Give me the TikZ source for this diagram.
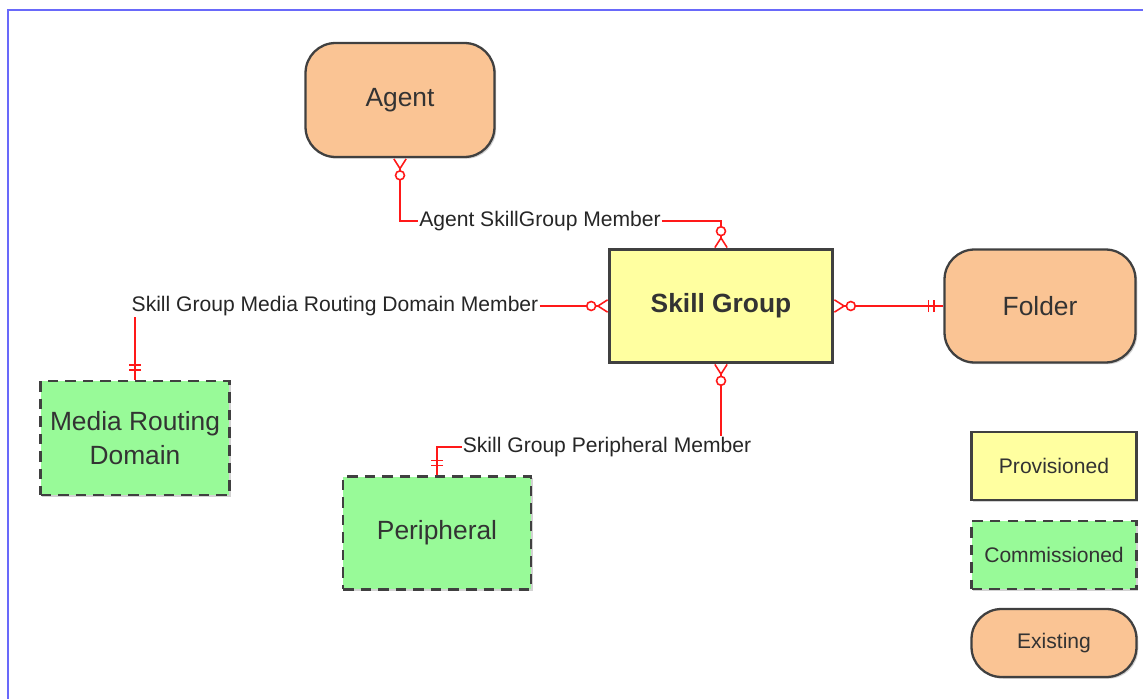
\documentclass[tikz,border=0pt]{standalone}
\usepackage{fontspec}
\setmainfont{Liberation Sans}
\usetikzlibrary{arrows.meta,shadows,positioning,decorations.markings}
\definecolor{peach}{RGB}{250,196,148}
\definecolor{paleyellow}{RGB}{255,255,160}
\definecolor{palegreen}{RGB}{152,250,152}
\definecolor{frameblue}{RGB}{105,105,250}
\definecolor{relred}{RGB}{255,25,25}

\tikzset{
	entity/.style={draw=black!75,line width=1.3pt,text=black!80,align=center,
		font=\fontsize{15}{19}\selectfont,
		drop shadow={shadow xshift=1pt,shadow yshift=-1pt,fill=black!35}},
	provisioned/.style={entity,fill=paleyellow},
	commissioned/.style={entity,fill=palegreen,dash pattern=on 6pt off 4pt},
	existing/.style={entity,fill=peach,rounded corners=0.6cm},
	legendbox/.style={minimum width=3.3cm,minimum height=1.36cm,font=\fontsize{12}{14}\selectfont},
	rel/.style={draw=relred,line width=1pt},
	rellabel/.style={inner sep=0.5pt,font=\fontsize{12}{14}\selectfont,text=black!85},
	many/.tip={Circle[open,fill=white,length=6pt,line width=0.9pt] Straight Barb[reversed,length=5.5pt,width=7pt,line width=0.9pt]},
	onestart/.style={postaction={decorate,decoration={markings,
		mark=at position 5.5pt with {\draw[-,relred,line width=0.9pt] (0,-3.5pt) -- (0,3.5pt);},
		mark=at position 8.5pt with {\draw[-,relred,line width=0.9pt] (0,-3.5pt) -- (0,3.5pt);}}}},
	oneend/.style={postaction={decorate,decoration={markings,
		mark=at position -8.5pt with {\draw[-,relred,line width=0.9pt] (0,-3.5pt) -- (0,3.5pt);},
		mark=at position -5.5pt with {\draw[-,relred,line width=0.9pt] (0,-3.5pt) -- (0,3.5pt);}}}}
}

\begin{document}
\begin{tikzpicture}[x=0.02cm,y=-0.02cm]
	\useasboundingbox (0,0) rectangle (1143,699);
	\draw[frameblue,line width=1.7pt] (8,699) -- (8,10) -- (1143,10);

	\node[existing,minimum width=3.78cm,minimum height=2.28cm] (agent) at (400,100) {Agent};
	\node[provisioned,minimum width=4.46cm,minimum height=2.26cm,font=\fontsize{15}{19}\selectfont\bfseries] (skillgroup) at (721,306) {Skill Group};
	\node[existing,minimum width=3.82cm,minimum height=2.26cm] (folder) at (1040,306) {Folder};
	\node[commissioned,minimum width=3.78cm,minimum height=2.28cm] (mrd) at (135,438) {Media Routing\\Domain};
	\node[commissioned,minimum width=3.76cm,minimum height=2.26cm] (peripheral) at (437,533) {Peripheral};

	\node[provisioned,legendbox] (legprov) at (1054,466) {Provisioned};
	\node[commissioned,legendbox] (legcomm) at (1054,555) {Commissioned};
	\node[existing,legendbox] (legexist) at (1054,643) {Existing};

	\node[rellabel] (lblagent) at (540,221) {Agent SkillGroup Member};
	\node[rellabel] (lblmrd) at (335,306) {Skill Group Media Routing Domain Member};
	\node[rellabel] (lblper) at (607,447) {Skill Group Peripheral Member};

	\draw[rel,many-] (agent.south) |- (lblagent.west);
	\draw[rel,-many] (lblagent.east) -| (skillgroup.north);
	\draw[rel,-many] (lblmrd.east) -- (skillgroup.west);
	\draw[rel,onestart] (mrd.north) -- (mrd.north |- lblmrd.south);
	\draw[rel,many-,oneend] (skillgroup.east) -- (folder.west);
	\draw[rel,many-] (skillgroup.south) -- (skillgroup.south |- lblper.north);
	\draw[rel,onestart] (peripheral.north) |- (lblper.west);
\end{tikzpicture}
\end{document}
